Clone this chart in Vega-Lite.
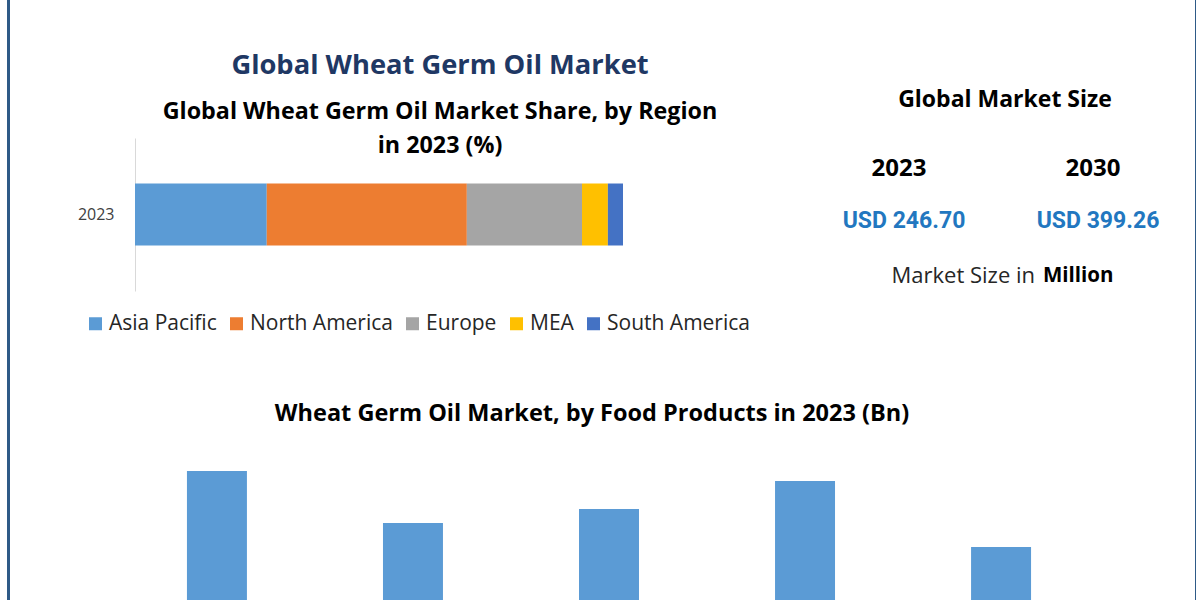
{
  "$schema": "https://vega.github.io/schema/vega-lite/v6.json",
  "padding": {"left": 8, "top": 0, "right": 0, "bottom": 0},
  "background": "white",
  "config": {"view": {"stroke": null}, "font": "Open Sans"},
  "datasets": {
    "share": [
      {"year": "2023", "region": "Asia Pacific", "share": 27.0},
      {"year": "2023", "region": "North America", "share": 41.0},
      {"year": "2023", "region": "Europe", "share": 23.6},
      {"year": "2023", "region": "MEA", "share": 5.3},
      {"year": "2023", "region": "South America", "share": 3.1}
    ],
    "size": [
      {"year": "2023", "size": "USD 246.70"},
      {"year": "2030", "size": "USD 399.26"}
    ],
    "note": [
      {"text": "Market Size in", "unit": "Million"}
    ],
    "food": [
      {"product": "Bakery Products", "value": 65},
      {"product": "Dairy Products", "value": 39},
      {"product": "Confectionery", "value": 46},
      {"product": "Beverages", "value": 60},
      {"product": "Others", "value": 27}
    ],
    "frame": [{"side": "border"}]
  },
  "spacing": 0,
  "align": "none",
  "hconcat": [
    {
      "width": 69,
      "height": 463,
      "data": {"name": "frame"},
      "mark": {"type": "point", "opacity": 0},
      "encoding": {
        "y": {"datum": 0, "type": "quantitative", "scale": {"range": [480, -139]}, "axis": {"orient": "left", "domainColor": "#2e5a87", "domainWidth": 3, "labels": false, "ticks": false, "grid": false, "title": null}}
      }
    },
    {
      "spacing": 94,
      "vconcat": [
        {
          "spacing": 57,
          "hconcat": [
            {
              "width": 610,
              "height": 153,
              "title": {
                "text": ["", "Global Wheat Germ Oil Market"],
                "lineHeight": 52,
                "subtitle": ["Global Wheat Germ Oil Market Share, by Region", "in 2023 (%)"],
                "anchor": "middle",
                "font": "Open Sans",
                "fontSize": 27.3,
                "fontWeight": "bold",
                "color": "#1f3864",
                "subtitleFont": "Open Sans",
                "subtitleFontSize": 23.3,
                "subtitleFontWeight": "bold",
                "subtitleColor": "#000000",
                "subtitlePadding": 21,
                "subtitleLineHeight": 34,
                "offset": -19
              },
              "data": {"name": "share"},
              "transform": [
                {"calculate": "indexof(['Asia Pacific','North America','Europe','MEA','South America'], datum.region)", "as": "stackOrder"}
              ],
              "mark": {"type": "bar", "size": 62},
              "encoding": {
                "y": {
                  "field": "year",
                  "type": "nominal",
                  "title": null,
                  "axis": {
                    "domainColor": "#d9d9d9",
                    "domainWidth": 1,
                    "ticks": false,
                    "labelFont": "Open Sans",
                    "labelFontSize": 16,
                    "labelColor": "#404040",
                    "labelPadding": 21
                  }
                },
                "x": {
                  "field": "share",
                  "type": "quantitative",
                  "stack": "zero",
                  "scale": {"domain": [0, 125], "nice": false},
                  "axis": null
                },
                "order": {"field": "stackOrder", "type": "quantitative"},
                "color": {
                  "field": "region",
                  "type": "nominal",
                  "scale": {
                    "domain": ["Asia Pacific", "North America", "Europe", "MEA", "South America"],
                    "range": ["#5b9bd5", "#ed7d31", "#a5a5a5", "#ffc000", "#4472c4"]
                  },
                  "legend": {
                    "title": null,
                    "orient": "none",
                    "direction": "horizontal",
                    "legendX": 77,
                    "legendY": 175,
                    "symbolType": "square",
                    "symbolSize": 169,
                    "symbolStrokeWidth": 0,
                    "labelFont": "Open Sans",
                    "labelFontSize": 21,
                    "labelColor": "#262626",
                    "labelOffset": 3,
                    "columnPadding": 9
                  }
                }
              }
            },
            {
              "width": 388,
              "height": 169,
              "title": {
                "text": "Global Market Size",
                "anchor": "middle",
                "font": "Open Sans",
                "fontSize": 23,
                "fontWeight": "bold",
                "color": "#000000",
                "offset": 26,
                "dx": 9
              },
              "layer": [
                {
                  "data": {"name": "size"},
                  "mark": {"type": "text", "font": "Open Sans", "fontSize": 24, "fontWeight": "bold", "color": "#000000"},
                  "encoding": {
                    "x": {"field": "year", "type": "nominal", "scale": {"type": "point", "padding": 0.5}, "axis": null},
                    "y": {"datum": "year", "type": "nominal", "scale": {"type": "point", "domain": ["year", "size", "note"], "padding": 0.58}, "axis": null},
                    "text": {"field": "year"}
                  }
                },
                {
                  "data": {"name": "size"},
                  "mark": {"type": "text", "font": "Roboto", "fontSize": 23, "fontWeight": "bold", "color": "#2277c0", "dx": 5, "dy": -2},
                  "encoding": {
                    "x": {"field": "year", "type": "nominal", "axis": null},
                    "y": {"datum": "size", "type": "nominal", "axis": null},
                    "text": {"field": "size"}
                  }
                },
                {
                  "data": {"name": "note"},
                  "mark": {"type": "text", "font": "Open Sans", "fontSize": 22, "color": "#262626", "align": "right", "dx": 39},
                  "encoding": {
                    "y": {"datum": "note", "type": "nominal", "axis": null},
                    "text": {"field": "text"}
                  }
                },
                {
                  "data": {"name": "note"},
                  "mark": {"type": "text", "font": "Open Sans", "fontSize": 20.5, "fontWeight": "bold", "color": "#000000", "align": "left", "dx": 47},
                  "encoding": {
                    "y": {"datum": "note", "type": "nominal", "axis": null},
                    "text": {"field": "unit"}
                  }
                }
              ]
            }
          ]
        },
        {
          "width": 948,
          "height": 150,
          "title": {
            "text": "Wheat Germ Oil Market, by Food Products  in 2023 (Bn)",
            "anchor": "middle",
            "font": "Open Sans",
            "fontSize": 23.5,
            "fontWeight": "bold",
            "color": "#000000",
            "offset": 26,
            "dx": -17
          },
          "data": {"name": "food"},
          "mark": {"type": "bar", "color": "#5b9bd5"},
          "encoding": {
            "x": {
              "field": "product",
              "type": "nominal",
              "sort": null,
              "scale": {"paddingInner": 0.694, "paddingOuter": 0.265},
              "axis": null
            },
            "y": {
              "field": "value",
              "type": "quantitative",
              "scale": {"domain": [0, 75], "nice": false},
              "axis": null
            }
          }
        }
      ]
    },
    {
      "width": 6,
      "height": 463,
      "data": {"name": "frame"},
      "mark": {"type": "point", "opacity": 0},
      "encoding": {
        "y": {"datum": 0, "type": "quantitative", "scale": {"range": [480, -139]}, "axis": {"orient": "right", "domainColor": "#2e5a87", "domainWidth": 3, "labels": false, "ticks": false, "grid": false, "title": null}}
      }
    }
  ]
}
